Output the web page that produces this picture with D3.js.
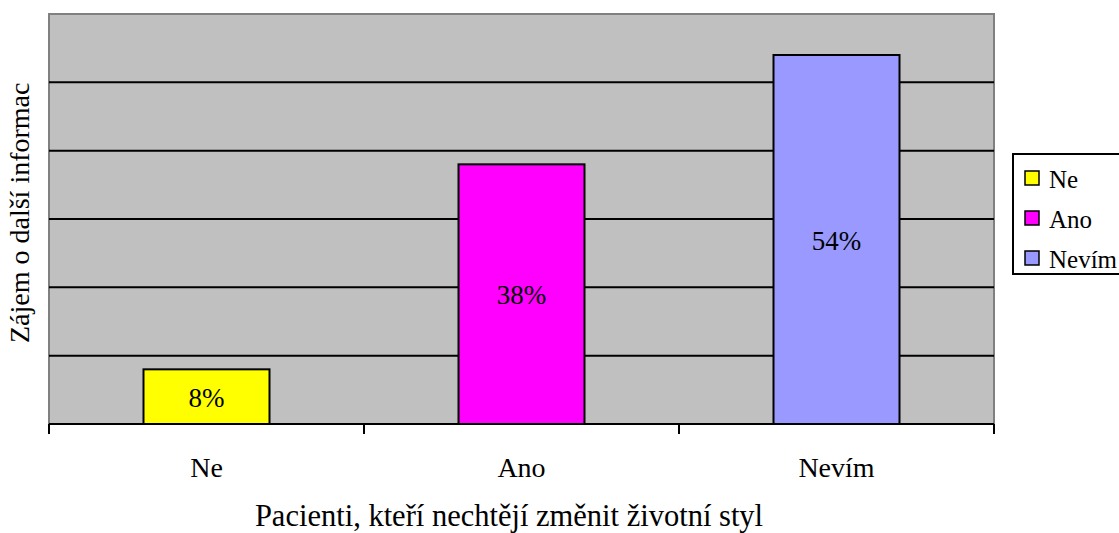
<!DOCTYPE html>
<html>
<head>
<meta charset="utf-8">
<script src="https://cdn.jsdelivr.net/npm/d3@7"></script>
<style>
  html, body { margin: 0; padding: 0; background: #fff; }
  svg { display: block; }
</style>
</head>
<body>
<svg id="chart" width="1119" height="533"></svg>
<script>
// Survey answers: patients who do not want to change their lifestyle
const categories = ["Ne", "Ano", "Nevím"];
const values = [8, 38, 54];
const valueLabels = ["8%", "38%", "54%"];
const colors = ["#ffff00", "#ff00ff", "#9999ff"];
const gridValues = [10, 20, 30, 40, 50];
const xTitle = "Pacienti, kteří nechtějí změnit životní styl";
const yTitle = "Zájem o další informace";

const FONT = "'Liberation Serif'";

const svg = d3.select("#chart");
const plot = { left: 49, right: 994, top: 14, bottom: 424 };

const x = d3.scaleBand()
  .domain(categories)
  .range([plot.left, plot.right])
  .paddingInner(0.6)
  .paddingOuter(0.3);

const y = d3.scaleLinear().domain([0, 60]).range([plot.bottom, plot.top]);

function label(sel) {
  return sel.style("font-family", FONT).attr("fill", "#000");
}

// plot background
svg.append("rect")
  .attr("x", plot.left).attr("y", plot.top)
  .attr("width", plot.right - plot.left).attr("height", plot.bottom - plot.top)
  .attr("fill", "#c0c0c0")
  .attr("stroke", "#808080").attr("stroke-width", 2);

// horizontal gridlines
svg.append("g").selectAll("line").data(gridValues).join("line")
  .attr("x1", plot.left).attr("x2", plot.right)
  .attr("y1", d => y(d)).attr("y2", d => y(d))
  .attr("stroke", "#000").attr("stroke-width", 2);

// bars
svg.append("g").selectAll("rect").data(values).join("rect")
  .attr("x", (d, i) => x(categories[i]))
  .attr("y", d => y(d))
  .attr("width", x.bandwidth())
  .attr("height", d => y(0) - y(d))
  .attr("fill", (d, i) => colors[i])
  .attr("stroke", "#000").attr("stroke-width", 2);

// value labels centred in each bar
svg.append("g").selectAll("text").data(values).join("text")
  .attr("x", (d, i) => x(categories[i]) + x.bandwidth() / 2)
  .attr("y", d => (y(d) + y(0)) / 2 + 10)
  .attr("text-anchor", "middle")
  .attr("font-size", 27)
  .call(label)
  .text((d, i) => valueLabels[i]);

// category axis with boundary ticks
const xAxis = svg.append("g").attr("transform", `translate(0,${plot.bottom})`);
xAxis.append("line")
  .attr("x1", plot.left).attr("x2", plot.right)
  .attr("stroke", "#000").attr("stroke-width", 2);
const boundaries = d3.range(categories.length + 1).map(i => plot.left + i * (plot.right - plot.left) / categories.length);
xAxis.selectAll("line.tick").data(boundaries).join("line")
  .attr("class", "tick")
  .attr("x1", d => d).attr("x2", d => d)
  .attr("y1", 0).attr("y2", 10)
  .attr("stroke", "#000").attr("stroke-width", 2);
xAxis.selectAll("text").data(categories).join("text")
  .attr("x", d => x(d) + x.bandwidth() / 2)
  .attr("y", 53)
  .attr("text-anchor", "middle")
  .attr("font-size", 28)
  .call(label)
  .text(d => d);

// axis titles
svg.append("text")
  .attr("x", 509)
  .attr("y", 526)
  .attr("text-anchor", "middle")
  .attr("font-size", 30.5)
  .call(label)
  .text(xTitle);

// the vertical title sits in a box that cuts off its last letters at the top
svg.append("clipPath").attr("id", "ytitle-clip")
  .append("rect").attr("x", 0).attr("y", 83).attr("width", 48).attr("height", 440);
svg.append("g")
  .attr("clip-path", "url(#ytitle-clip)")
  .append("text")
  .attr("transform", "translate(29,343) rotate(-90)")
  .attr("font-size", 28)
  .call(label)
  .text(yTitle);

// legend
const legend = svg.append("g");
legend.append("rect")
  .attr("x", 1013).attr("y", 154)
  .attr("width", 120).attr("height", 120)
  .attr("fill", "#fff").attr("stroke", "#000").attr("stroke-width", 2);
const items = legend.selectAll("g.item").data(categories).join("g")
  .attr("class", "item")
  .attr("transform", (d, i) => `translate(1025,${171 + i * 40})`);
items.append("rect")
  .attr("width", 14).attr("height", 14)
  .attr("fill", (d, i) => colors[i])
  .attr("stroke", "#000").attr("stroke-width", 1.5);
items.append("text")
  .attr("x", 24).attr("y", 17)
  .attr("font-size", 25)
  .call(label)
  .text(d => d);
</script>
</body>
</html>
